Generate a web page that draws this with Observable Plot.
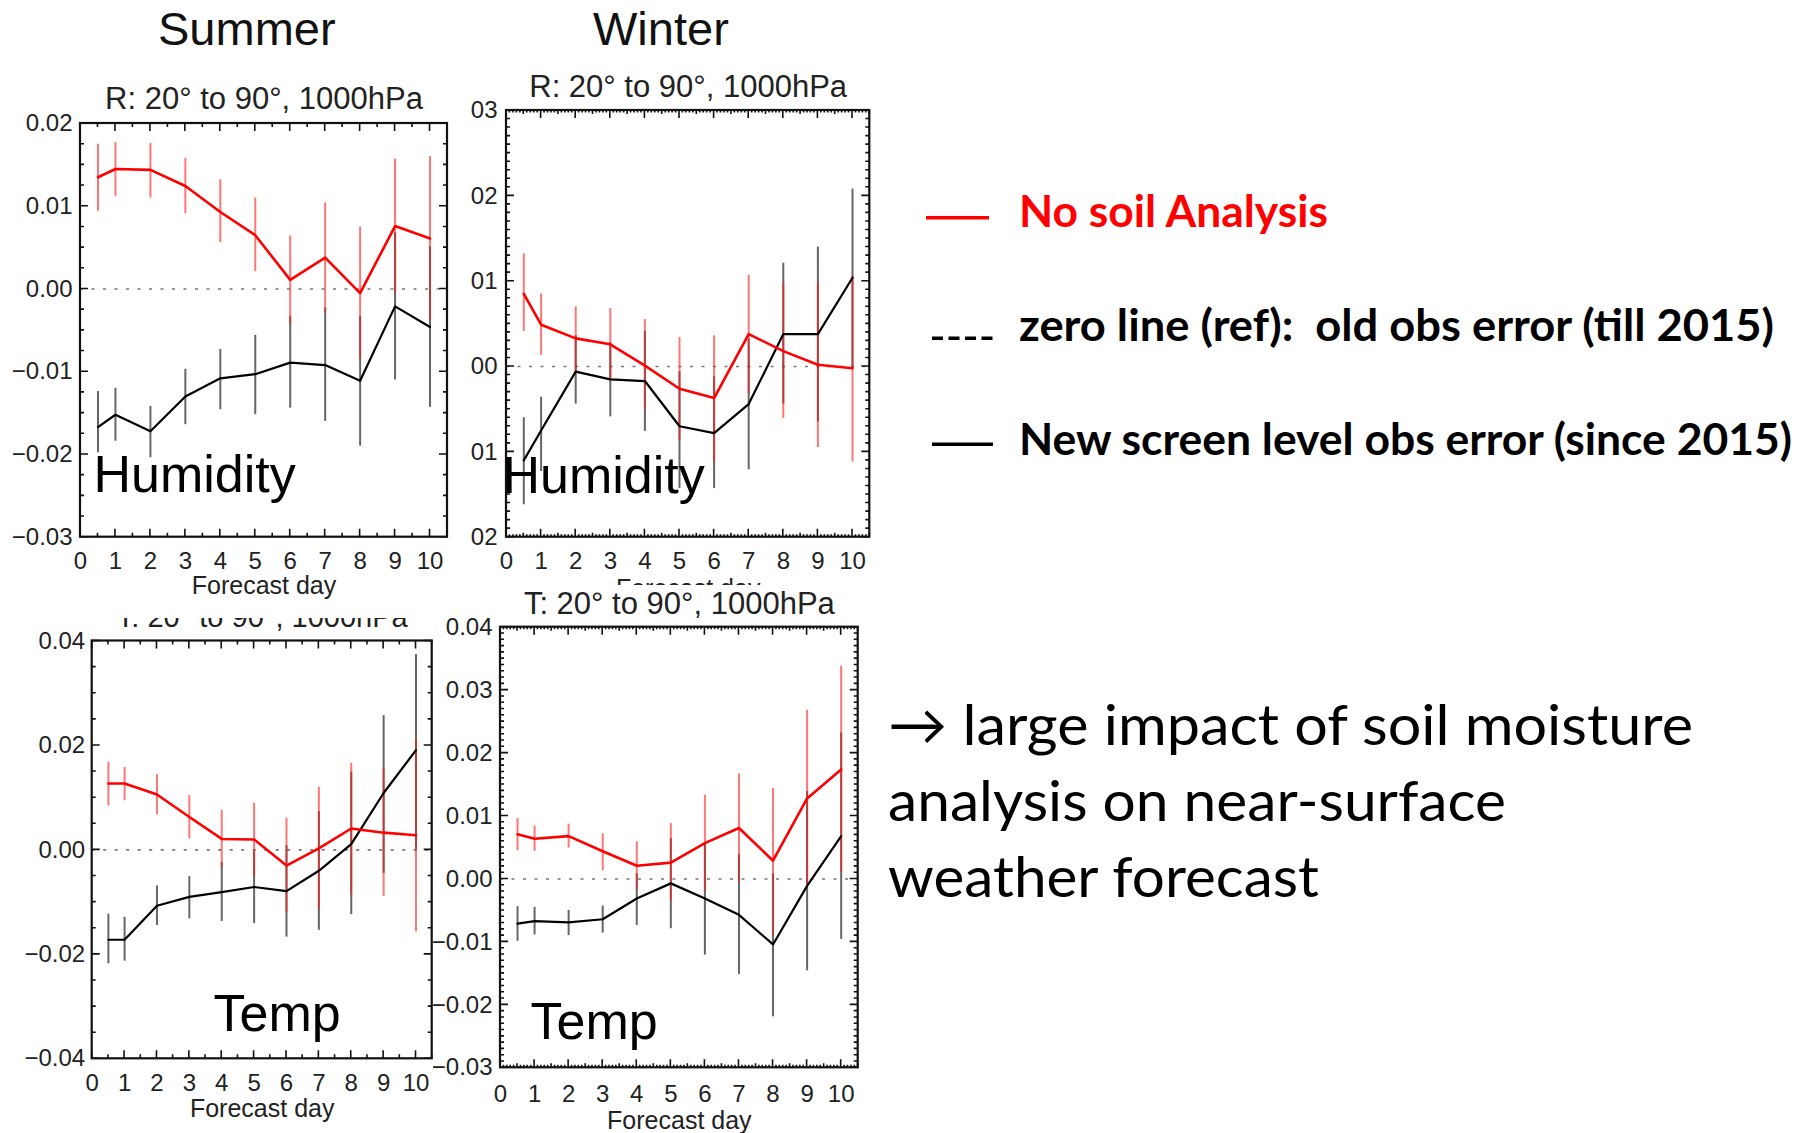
<!DOCTYPE html>
<html>
<head>
<meta charset="utf-8">
<script src="https://cdn.jsdelivr.net/npm/d3@7"></script>
<script src="https://cdn.jsdelivr.net/npm/@observablehq/plot@0.6"></script>
<style>
  html, body { margin: 0; padding: 0; background: #fff; }
  body { position: relative; width: 1815px; height: 1133px; overflow: hidden; font-family: "Liberation Sans", Arial, sans-serif; }
  .panel { position: absolute; background: #fff; overflow: hidden; }
  .panel svg { display: block; }
  .season { position: absolute; margin: 0; font: 47px "Liberation Sans", Arial, sans-serif; color: #111; line-height: 1; }
  #notes { position: absolute; left: 0; top: 0; z-index: 5; pointer-events: none; }
</style>
</head>
<body>
<div class="season" style="left:158px;top:5px">Summer</div>
<div class="season" style="left:593px;top:5px">Winter</div>
<div id="pA" class="panel" style="left:0px;top:60px;z-index:2"></div>
<div id="pB" class="panel" style="left:468px;top:55px;z-index:1"></div>
<div id="pC" class="panel" style="left:0px;top:600px;z-index:1"></div>
<div id="pD" class="panel" style="left:433px;top:585px;z-index:2"></div>
<svg id="notes" width="1815" height="1133"></svg>
<script>
// Forecast days at which the scores were computed
const days = [0.5, 1, 2, 3, 4, 5, 6, 7, 8, 9, 10];
const dayTicks = [0, 1, 2, 3, 4, 5, 6, 7, 8, 9, 10];

// Summer, relative humidity at 1000 hPa (20N-90N)
const sumHumNoSoil   = [0.0135, 0.0145, 0.0144, 0.01245, 0.0093, 0.0065, 0.0011, 0.0038, -0.0005, 0.0076, 0.0061];
const sumHumNoSoilHi = [0.0175, 0.0177, 0.0176, 0.0158, 0.0132, 0.0110, 0.0064, 0.0104, 0.0075, 0.0157, 0.0160];
const sumHumNoSoilLo = [0.0094, 0.0112, 0.0110, 0.0091, 0.0056, 0.0021, -0.0043, -0.0028, -0.0085, -0.0005, -0.0038];
const sumHumNewErr   = [-0.0167, -0.0152, -0.0172, -0.0130, -0.0108, -0.0103, -0.0089, -0.0092, -0.0111, -0.0021, -0.0046];
const sumHumNewErrHi = [-0.0124, -0.0120, -0.0142, -0.0097, -0.0073, -0.0056, -0.0033, -0.0023, -0.0033, 0.0068, 0.0051];
const sumHumNewErrLo = [-0.0198, -0.0184, -0.0204, -0.0164, -0.0146, -0.0152, -0.0144, -0.0160, -0.0190, -0.0110, -0.0143];
const sumHumTicks = [-0.03, -0.02, -0.01, 0, 0.01, 0.02];

// Winter, relative humidity at 1000 hPa (20N-90N)
const winHumNoSoil   = [0.0085, 0.0049, 0.0033, 0.0026, 0.0001, -0.0026, -0.0037, 0.0038, 0.0018, 0.0002, -0.0002];
const winHumNoSoilHi = [0.0132, 0.0085, 0.0070, 0.0068, 0.0055, 0.0034, 0.0036, 0.0107, 0.0098, 0.0098, 0.0106];
const winHumNoSoilLo = [0.0041, 0.0013, -0.0006, -0.0014, -0.0050, -0.0087, -0.0112, -0.0032, -0.0061, -0.0095, -0.0112];
const winHumNewErr   = [-0.0110, -0.0075, -0.0006, -0.0015, -0.0017, -0.0070, -0.0078, -0.0044, 0.0038, 0.0038, 0.0104];
const winHumNewErrHi = [-0.0060, -0.0036, 0.0036, 0.0028, 0.0041, -0.0006, -0.0012, 0.0032, 0.0121, 0.0140, 0.0208];
const winHumNewErrLo = [-0.0162, -0.0123, -0.0044, -0.0059, -0.0076, -0.0143, -0.0143, -0.0121, -0.0044, -0.0065, 0.0000];
const winHumTicks = [-0.02, -0.01, 0, 0.01, 0.02, 0.03];

// Summer, temperature at 1000 hPa (20N-90N)
const sumTempNoSoil   = [0.0127, 0.0127, 0.0106, 0.0063, 0.0021, 0.0020, -0.0030, 0.0003, 0.0041, 0.0033, 0.0028];
const sumTempNoSoilHi = [0.0168, 0.0158, 0.0144, 0.0104, 0.0076, 0.0089, 0.0061, 0.0120, 0.0166, 0.0155, 0.0213];
const sumTempNoSoilLo = [0.0084, 0.0094, 0.0067, 0.0021, -0.0034, -0.0051, -0.0120, -0.0114, -0.0086, -0.0089, -0.0157];
const sumTempNewErr   = [-0.0172, -0.0172, -0.0107, -0.0090, -0.0081, -0.0071, -0.0079, -0.0040, 0.0011, 0.0109, 0.0191];
const sumTempNewErrHi = [-0.0123, -0.0129, -0.0069, -0.0051, -0.0024, -0.0003, 0.0008, 0.0073, 0.0149, 0.0257, 0.0374];
const sumTempNewErrLo = [-0.0218, -0.0213, -0.0145, -0.0132, -0.0137, -0.0141, -0.0167, -0.0154, -0.0124, -0.0045, 0.0001];
const sumTempTicks = [-0.04, -0.02, 0, 0.02, 0.04];

// Winter, temperature at 1000 hPa (20N-90N)
const winTempNoSoil   = [0.0071, 0.0064, 0.0068, 0.0044, 0.0021, 0.0026, 0.0057, 0.0081, 0.0029, 0.0128, 0.0174];
const winTempNoSoilHi = [0.0096, 0.0084, 0.0087, 0.0072, 0.0059, 0.0088, 0.0133, 0.0167, 0.0144, 0.0268, 0.0338];
const winTempNoSoilLo = [0.0045, 0.0044, 0.0049, 0.0013, -0.0017, -0.0035, -0.0020, -0.0006, -0.0090, -0.0012, 0.0011];
const winTempNewErr   = [-0.0071, -0.0067, -0.0069, -0.0064, -0.0031, -0.0007, -0.0031, -0.0057, -0.0104, -0.0011, 0.0068];
const winTempNewErrHi = [-0.0044, -0.0045, -0.0050, -0.0043, 0.0008, 0.0064, 0.0055, 0.0039, 0.0008, 0.0139, 0.0232];
const winTempNewErrLo = [-0.0099, -0.0089, -0.0090, -0.0086, -0.0074, -0.0079, -0.0121, -0.0152, -0.0219, -0.0146, -0.0096];
const winTempTicks = [-0.03, -0.02, -0.01, 0, 0.01, 0.02, 0.03, 0.04];

// Legend and conclusion text
const legendLabels = ["No soil Analysis", "zero line (ref):  old obs error (till 2015)", "New screen level obs error (since 2015)"];
const noteLines = ["\u2192 large impact of soil moisture", "analysis on near-surface", "weather forecast"];

const FONT = '"Liberation Sans", Arial, Helvetica, sans-serif';

function rows(v, hi, lo) {
  return days.map((day, i) => ({day, v: v[i], hi: hi[i], lo: lo[i]}));
}

function steps(lo, hi, step) {
  const n = Math.round((hi - lo) / step);
  return d3.range(n + 1).map(i => +(lo + i * step).toFixed(6));
}

// IDL-style box: frame on all four sides with inward-pointing major/minor ticks
function idlFrame({xMajor, xMinor, xMicro = [], yMajor, yMinor}) {
  return (index, scales, values, dims) => {
    const {x, y} = scales;
    const x0 = dims.marginLeft, x1 = dims.width - dims.marginRight;
    const y0 = dims.marginTop, y1 = dims.height - dims.marginBottom;
    let d = "";
    const xt = (vals, len) => vals.forEach(v => { const px = x(v); d += `M${px},${y1}v${-len}M${px},${y0}v${len}`; });
    const yt = (vals, len) => vals.forEach(v => { const py = y(v); d += `M${x0},${py}h${len}M${x1},${py}h${-len}`; });
    xt(xMajor, 8); xt(xMinor, 4); xt(xMicro, 2.5);
    yt(yMajor, 8); yt(yMinor, 4);
    const g = d3.create("svg:g");
    g.append("path").attr("d", d).attr("fill", "none").attr("stroke", "#111").attr("stroke-width", 1.6);
    g.append("rect").attr("x", x0).attr("y", y0).attr("width", x1 - x0).attr("height", y1 - y0)
      .attr("fill", "none").attr("stroke", "#111").attr("stroke-width", 2.2);
    return g.node();
  };
}

function panel(cfg) {
  const red = rows(cfg.noSoil, cfg.noSoilHi, cfg.noSoilLo);
  const blk = rows(cfg.newErr, cfg.newErrHi, cfg.newErrLo);
  const [ylo, yhi] = cfg.yDomain;
  const majorKeys = new Set(cfg.yTicks.map(v => Math.round(v * 1e6)));
  const yMinor = steps(ylo, yhi, cfg.yMinorStep).filter(v => !majorKeys.has(Math.round(v * 1e6)));
  const xMinor = steps(0.5, 10.5, 1);
  const xMicro = cfg.micro ? steps(0, 10.5, 0.1).filter(v => Math.abs(v * 2 - Math.round(v * 2)) > 1e-6) : [];
  return Plot.plot({
    width: cfg.width, height: cfg.height,
    marginLeft: cfg.m[3], marginRight: cfg.m[1], marginTop: cfg.m[0], marginBottom: cfg.m[2],
    style: {fontFamily: FONT, fontSize: "24px", background: "white", color: "#222"},
    x: {domain: [0, 10.5]},
    y: {domain: cfg.yDomain},
    marks: [
      Plot.ruleY([0], {stroke: "#777", strokeWidth: 1.6, strokeDasharray: "3,8.5"}),
      Plot.ruleX(blk, {x: "day", y1: "lo", y2: "hi", stroke: "#333", strokeOpacity: 0.75, strokeWidth: 2}),
      Plot.ruleX(red, {x: "day", y1: "lo", y2: "hi", stroke: "#ff1a1a", strokeOpacity: 0.6, strokeWidth: 2}),
      Plot.line(blk, {x: "day", y: "v", stroke: "#000", strokeWidth: 2.2}),
      Plot.line(red, {x: "day", y: "v", stroke: "#ff0000", strokeWidth: 2.6}),
      idlFrame({xMajor: dayTicks, xMinor, xMicro, yMajor: cfg.yTicks, yMinor}),
      Plot.axisY(cfg.yTicks, {anchor: "left", tickSize: 0, tickPadding: cfg.yPad, tickFormat: cfg.yFormat, label: null, fontSize: 24, fill: "#222"}),
      Plot.axisX(dayTicks, {anchor: "bottom", tickSize: 0, tickPadding: cfg.xPad, tickFormat: d => String(d), label: null, fontSize: 24, fill: "#222"}),
      Plot.text([cfg.title], {frameAnchor: "top", lineAnchor: "middle", dy: cfg.titleDy, fontSize: cfg.titleSize, fill: "#222"}),
      Plot.text(["Forecast day"], {frameAnchor: "bottom", lineAnchor: "middle", dy: cfg.fdDy, fontSize: 25, fill: "#222"}),
      Plot.text([cfg.label], {frameAnchor: "top-left", lineAnchor: "middle", textAnchor: "start", dx: cfg.labelDx, dy: cfg.labelDy, fontSize: 52, fill: "#000"})
    ]
  });
}

const fmt2 = d => (d < 0 ? "\u2212" : "") + Math.abs(d).toFixed(2);
const fmtTail = d => Math.abs(d).toFixed(2).slice(-2);

document.getElementById("pA").append(panel({
  width: 468, height: 558, m: [63, 21, 81.3, 80],
  noSoil: sumHumNoSoil, noSoilHi: sumHumNoSoilHi, noSoilLo: sumHumNoSoilLo,
  newErr: sumHumNewErr, newErrHi: sumHumNewErrHi, newErrLo: sumHumNewErrLo,
  yDomain: [-0.03, 0.02], yTicks: sumHumTicks, yMinorStep: 0.0025, yFormat: fmt2, yPad: 8, xPad: 15,
  title: "R: 20\u00b0 to 90\u00b0, 1000hPa", titleSize: 31, titleDy: -24.6, fdDy: 48.6,
  label: "Humidity", labelDx: 13, labelDy: 352
}));

document.getElementById("pB").append(panel({
  width: 414, height: 560, m: [55, 12.7, 78.3, 38],
  noSoil: winHumNoSoil, noSoilHi: winHumNoSoilHi, noSoilLo: winHumNoSoilLo,
  newErr: winHumNewErr, newErrHi: winHumNewErrHi, newErrLo: winHumNewErrLo,
  yDomain: [-0.02, 0.03], yTicks: winHumTicks, yMinorStep: 0.001, yFormat: fmtTail, yPad: 9, xPad: 15, micro: true,
  title: "R: 20\u00b0 to 90\u00b0, 1000hPa", titleSize: 31, titleDy: -23.2, fdDy: 51.3,
  label: "Humidity", labelDx: -4, labelDy: 365.4
}));

document.getElementById("pC").append(panel({
  width: 433, height: 533, m: [40.5, 1.3, 74.7, 91.7],
  noSoil: sumTempNoSoil, noSoilHi: sumTempNoSoilHi, noSoilLo: sumTempNoSoilLo,
  newErr: sumTempNewErr, newErrHi: sumTempNewErrHi, newErrLo: sumTempNewErrLo,
  yDomain: [-0.04, 0.04], yTicks: sumTempTicks, yMinorStep: 0.005, yFormat: fmt2, yPad: 7, xPad: 15.5,
  title: "T: 20\u00b0 to 90\u00b0, 1000hPa", titleSize: 29, titleDy: -23.1, fdDy: 50.4,
  label: "Temp", labelDx: 121.3, labelDy: 372.9
}));

document.getElementById("pD").append(panel({
  width: 447, height: 548, m: [41.7, 22.3, 65.7, 67],
  noSoil: winTempNoSoil, noSoilHi: winTempNoSoilHi, noSoilLo: winTempNoSoilLo,
  newErr: winTempNewErr, newErrHi: winTempNewErrHi, newErrLo: winTempNewErrLo,
  yDomain: [-0.03, 0.04], yTicks: winTempTicks, yMinorStep: 0.001, yFormat: fmt2, yPad: 8, xPad: 17.5, micro: true,
  title: "T: 20\u00b0 to 90\u00b0, 1000hPa", titleSize: 31, titleDy: -23.3, fdDy: 53,
  label: "Temp", labelDx: 30, labelDy: 395
}));

// Legend and conclusion, set in real text
const notes = d3.select("#notes");
const legendRows = [
  {label: legendLabels[0], color: "#ff0000", dash: null, lx0: 926, lx1: 989, ly: 217.7, ty: 227, len: 309},
  {label: legendLabels[1], color: "#000", dash: "11,5.5", lx0: 932, lx1: 993, ly: 338.3, ty: 341, len: 755},
  {label: legendLabels[2], color: "#000", dash: null, lx0: 932, lx1: 993, ly: 444.3, ty: 455, len: 773}
];
legendRows.forEach(r => {
  notes.append("line").attr("x1", r.lx0).attr("x2", r.lx1).attr("y1", r.ly).attr("y2", r.ly)
    .attr("stroke", r.color).attr("stroke-width", 3.5).attr("stroke-dasharray", r.dash);
  notes.append("text").attr("x", 1019).attr("y", r.ty)
    .attr("textLength", r.len).attr("lengthAdjust", "spacingAndGlyphs")
    .style("white-space", "pre")
    .attr("font-family", "Lato, 'Open Sans', sans-serif").attr("font-weight", 700).attr("font-size", 43)
    .attr("fill", r.color).text(r.label);
});
const noteLayout = [{y: 745, len: 805}, {y: 821, len: 618}, {y: 897, len: 431}];
noteLines.forEach((t, i) => {
  notes.append("text").attr("x", 888).attr("y", noteLayout[i].y)
    .attr("textLength", noteLayout[i].len).attr("lengthAdjust", "spacingAndGlyphs")
    .attr("font-family", "Lato, 'Open Sans', sans-serif").attr("font-size", 57)
    .attr("fill", "#000").text(t);
});
</script>
</body>
</html>
